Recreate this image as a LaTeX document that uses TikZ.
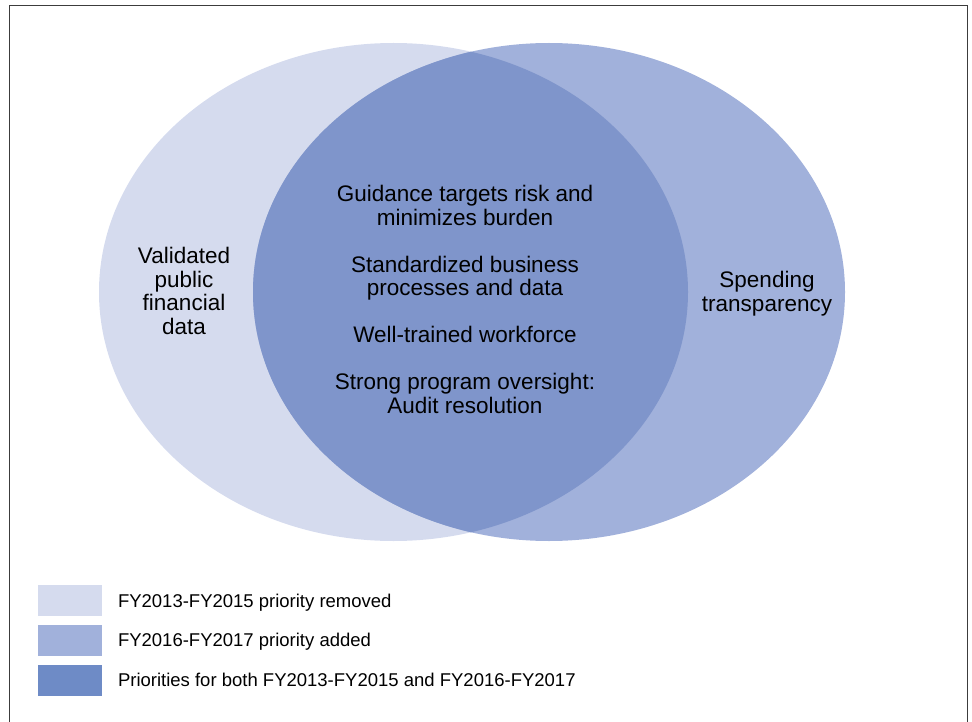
\documentclass[tikz,border=0pt]{standalone}
\usepackage{fontspec}
\setmainfont{Liberation Sans}
\begin{document}
\begin{tikzpicture}[x=1pt,y=-1pt,
  every node/.style={inner sep=0pt,outer sep=0pt},
  bodytext/.style={font=\fontsize{22.5}{23.5}\selectfont,align=center,text=black,anchor=base},
  legtext/.style={font=\fontsize{18.5}{21}\selectfont,anchor=base west,text=black},
  swatch/.style={minimum width=65pt,minimum height=32pt,draw=white,line width=0.6pt}]
\definecolor{oldonly}{HTML}{D5DBEE}
\definecolor{newonly}{HTML}{A1B1DB}
\definecolor{bothfill}{HTML}{7F95CB}
\definecolor{bothswatch}{HTML}{6E8BC6}
\definecolor{framegray}{HTML}{3C3C3C}

\useasboundingbox (0,0) rectangle (972,722);

% outer frame (runs off the bottom of the page)
\draw[framegray,line width=1.3pt] (9.5,740) -- (9.5,5.5) -- (967.5,5.5) -- (967.5,740);

% the two priority sets
\fill[oldonly] (393.5,292) ellipse [x radius=294.5,y radius=249];
\fill[newonly] (549,292) ellipse [x radius=296,y radius=249];
\begin{scope}
  \clip (393.5,292) ellipse [x radius=294.5,y radius=249];
  \fill[bothfill] (549,292) ellipse [x radius=296,y radius=249];
\end{scope}

% set contents (anchored at the baseline of the last line)
\node[bodytext] (left) at (184,334)
  {Validated\\public\\financial\\data};
\node[bodytext] (right) at (767,311)
  {Spending\\transparency};
\node[bodytext] (both) at (465,413)
  {Guidance targets risk and\\minimizes burden\\[23.5pt]
   Standardized business\\processes and data\\[23.5pt]
   Well-trained workforce\\[23.5pt]
   Strong program oversight:\\Audit resolution};

% legend
\node[swatch,fill=oldonly] (k1) at (69.5,600) {};
\node[swatch,fill=newonly] (k2) at (69.5,640) {};
\node[swatch,fill=bothswatch] (k3) at (69.5,680) {};
\node[legtext] (t1) at (118,607) {FY2013-FY2015 priority removed};
\node[legtext] (t2) at (118,646) {FY2016-FY2017 priority added};
\node[legtext] (t3) at (118,686) {Priorities for both FY2013-FY2015 and FY2016-FY2017};
\end{tikzpicture}
\end{document}
